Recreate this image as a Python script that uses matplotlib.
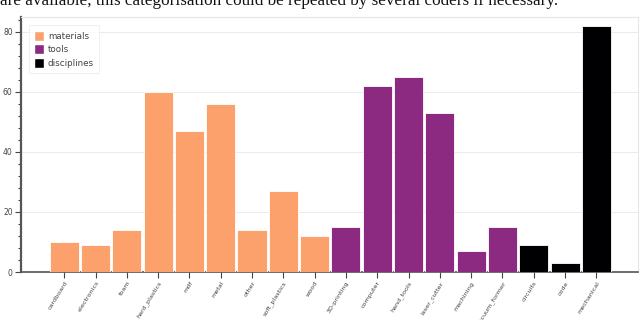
import matplotlib
matplotlib.use("Agg")
import matplotlib.pyplot as plt
from matplotlib.patches import Patch
from matplotlib.ticker import MultipleLocator

categories = ["cardboard", "electronics", "foam", "hard_plastics", "mdf", "metal",
              "other", "soft_plastics", "wood",
              "3D-printing", "computer", "hand_tools", "laser_cutter", "machining",
              "vacuum_former",
              "circuits", "code", "mechanical"]
values = [10, 9, 14, 60, 47, 56, 14, 27, 12,
          15, 62, 65, 53, 7, 15,
          9, 3, 82]
groups = ["materials"] * 9 + ["tools"] * 6 + ["disciplines"] * 3
group_names = ["materials", "tools", "disciplines"]
group_colors = {"materials": "#FCA06C", "tools": "#8C2981", "disciplines": "#000003"}
caption = "are available, this categorisation could be repeated by several coders if necessary."

fig = plt.figure(figsize=(6.4, 3.2), dpi=100)
ax = fig.add_axes([21 / 640, 1 - 272 / 320, (638 - 21) / 640, (272 - 17.3) / 320])

x = list(range(len(categories)))
colors = [group_colors[g] for g in groups]
ax.bar(x, values, width=0.93, color=colors, edgecolor="white", linewidth=0.6, zorder=3)

ax.set_xlim(-1.38, 18.33)
ax.set_ylim(0, 84.8)
ax.set_xticks(x)
ax.set_xticklabels(categories, rotation=58, ha="right", rotation_mode="anchor",
                   fontsize=4.6, color="#444444")
ax.yaxis.set_major_locator(MultipleLocator(20))
ax.yaxis.set_minor_locator(MultipleLocator(4))
ax.tick_params(axis="y", which="major", labelsize=5.5, labelcolor="#444444",
               length=4, width=0.8, color="#444444", pad=2)
ax.tick_params(axis="y", which="minor", length=2, width=0.8, color="#444444")
ax.tick_params(axis="x", which="major", length=4, width=0.8, color="#444444", pad=2)

ax.grid(axis="y", which="major", color="#e8e8e8", linewidth=0.6, zorder=0)
for s in ["top", "right"]:
    ax.spines[s].set_color("#e6e6e6")
    ax.spines[s].set_linewidth(0.8)
ax.spines["left"].set_color("#555555")
ax.spines["left"].set_linewidth(1.6)
ax.spines["bottom"].set_color("#555555")
ax.spines["bottom"].set_linewidth(1.2)

handles = [Patch(facecolor=group_colors[g], edgecolor="white", label=g) for g in group_names]
leg = ax.legend(handles=handles, loc="upper left", bbox_to_anchor=(0.006, 0.985),
                fontsize=6.3, frameon=True, fancybox=False, handlelength=1.1,
                handleheight=1.4, handletextpad=0.45, labelspacing=0.4,
                borderpad=0.6, labelcolor="#444444")
leg.get_frame().set_edgecolor("#eeeeee")
leg.get_frame().set_linewidth(0.8)

fig.text(0.0, 1 - 4.7 / 320, caption, family="Liberation Serif", fontsize=12.3,
         color="#111111", ha="left", va="baseline")

fig.savefig("out.png", dpi=100)
